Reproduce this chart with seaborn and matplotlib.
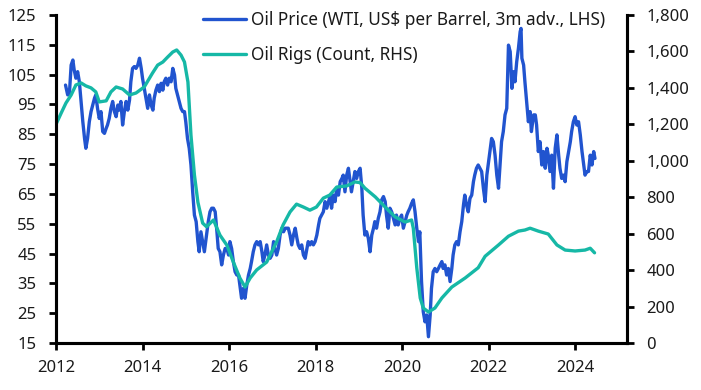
import matplotlib
matplotlib.use("Agg")
import matplotlib.pyplot as plt
import seaborn as sns
import pandas as pd
from matplotlib.ticker import FuncFormatter

# ---------------- data ----------------
oil_year = [
    2012.22, 2012.27, 2012.31, 2012.35, 2012.39, 2012.42, 2012.46, 2012.50, 2012.54, 2012.58,
    2012.62, 2012.66, 2012.69, 2012.73, 2012.77, 2012.81, 2012.85, 2012.89, 2012.92, 2012.96,
    2013.00, 2013.04, 2013.08, 2013.12, 2013.16, 2013.19, 2013.23, 2013.27, 2013.31, 2013.35,
    2013.39, 2013.43, 2013.46, 2013.50, 2013.54, 2013.58, 2013.62, 2013.66, 2013.70, 2013.73,
    2013.77, 2013.81, 2013.85, 2013.89, 2013.93, 2013.97, 2014.00, 2014.04, 2014.08, 2014.12,
    2014.16, 2014.20, 2014.24, 2014.27, 2014.31, 2014.35, 2014.39, 2014.43, 2014.47, 2014.50,
    2014.54, 2014.58, 2014.62, 2014.66, 2014.70, 2014.74, 2014.77, 2014.81, 2014.85, 2014.89,
    2014.93, 2014.97, 2015.00, 2015.04, 2015.08, 2015.12, 2015.16, 2015.20, 2015.24, 2015.28,
    2015.31, 2015.35, 2015.39, 2015.43,
    2015.48, 2015.52, 2015.56, 2015.60, 2015.64, 2015.68, 2015.72, 2015.75, 2015.79, 2015.83,
    2015.87, 2015.91, 2015.95, 2015.99, 2016.02, 2016.06, 2016.10, 2016.14, 2016.18, 2016.22,
    2016.25, 2016.29, 2016.33, 2016.37, 2016.41, 2016.45, 2016.49, 2016.52, 2016.56, 2016.60,
    2016.64, 2016.68, 2016.72, 2016.76, 2016.79, 2016.83, 2016.87, 2016.91, 2016.95, 2016.99,
    2017.03, 2017.06, 2017.10, 2017.14, 2017.18, 2017.22, 2017.26, 2017.30, 2017.33, 2017.37,
    2017.41, 2017.45, 2017.49, 2017.53, 2017.57, 2017.60, 2017.64, 2017.68, 2017.72, 2017.76,
    2017.80, 2017.83, 2017.87, 2017.91, 2017.95, 2017.99, 2018.03, 2018.07, 2018.10, 2018.14,
    2018.18, 2018.22, 2018.26, 2018.30, 2018.34, 2018.37, 2018.41, 2018.45, 2018.49, 2018.53,
    2018.57, 2018.61, 2018.64,
    2018.68, 2018.72, 2018.76, 2018.80, 2018.83, 2018.87, 2018.91, 2018.95, 2018.99, 2019.03,
    2019.07, 2019.10, 2019.14, 2019.18, 2019.22, 2019.26, 2019.30, 2019.34, 2019.37, 2019.41,
    2019.45, 2019.49, 2019.53, 2019.57, 2019.61, 2019.64, 2019.68, 2019.72, 2019.76, 2019.80,
    2019.84, 2019.87, 2019.91, 2019.95, 2019.99, 2020.03, 2020.07, 2020.11, 2020.14, 2020.18,
    2020.22, 2020.26, 2020.30, 2020.34, 2020.38, 2020.41, 2020.45, 2020.49, 2020.53, 2020.57,
    2020.61, 2020.65, 2020.68, 2020.72, 2020.76, 2020.80, 2020.84, 2020.88, 2020.92, 2020.95,
    2020.99, 2021.03, 2021.07, 2021.11, 2021.15, 2021.18, 2021.22, 2021.26, 2021.30, 2021.34,
    2021.38, 2021.42, 2021.45, 2021.49, 2021.53, 2021.57, 2021.61, 2021.65, 2021.68, 2021.72,
    2021.76, 2021.80, 2021.84, 2021.88,
    2021.92, 2021.96, 2022.00, 2022.04, 2022.07, 2022.11, 2022.15, 2022.19, 2022.23, 2022.27,
    2022.30, 2022.34, 2022.38, 2022.42, 2022.46, 2022.50, 2022.54, 2022.58, 2022.61, 2022.65,
    2022.69, 2022.73, 2022.75, 2022.77, 2022.81, 2022.84, 2022.88, 2022.92, 2022.96, 2022.99,
    2023.04, 2023.08, 2023.11, 2023.15, 2023.19, 2023.23, 2023.27, 2023.31, 2023.35, 2023.38,
    2023.42, 2023.46, 2023.50, 2023.54, 2023.58, 2023.62, 2023.65, 2023.69, 2023.73, 2023.77,
    2023.81, 2023.85, 2023.89, 2023.92, 2023.96, 2024.00, 2024.04, 2024.08, 2024.12, 2024.16,
    2024.19, 2024.23, 2024.27, 2024.31, 2024.35, 2024.39, 2024.43, 2024.46,
]
oil_price = [
    101.5, 98.2, 98.7, 108.2, 109.9, 106.6, 103.8, 106.0, 102.6, 96.0,
    89.2, 83.6, 80.3, 83.6, 89.2, 92.6, 94.8, 97.1, 98.2, 93.7,
    90.3, 92.6, 85.9, 85.3, 87.0, 88.1, 90.3, 93.7, 96.0, 92.6,
    90.9, 94.8, 93.1, 96.0, 88.1, 92.6, 96.0, 93.1, 96.5, 102.6,
    107.1, 107.7, 107.1, 108.2, 110.5, 107.1, 103.8, 100.4, 97.1, 93.7,
    98.2, 94.8, 93.1, 97.1, 99.8, 101.5, 99.3, 102.1, 99.8, 102.6,
    103.8, 101.5, 103.8, 102.6, 107.1, 104.9, 100.4, 98.2, 96.0, 93.7,
    92.6, 92.6, 89.2, 83.6, 80.3, 74.7, 65.7, 57.9, 55.7, 49.0,
    45.6, 52.3, 49.0, 45.6,
    51.2, 55.7, 59.0, 60.2, 60.2, 59.0, 52.3, 46.7, 45.6, 41.2,
    44.5, 46.7, 46.7, 44.5, 49.0, 46.7, 42.3, 38.9, 37.8, 37.8,
    34.4, 30.0, 33.3, 30.0, 34.4, 37.8, 40.0, 42.3, 45.6, 47.9,
    49.0, 47.9, 49.0, 45.6, 42.3, 44.5, 47.9, 44.5, 43.4, 44.5,
    49.0, 46.7, 44.5, 46.7, 51.2, 53.5, 52.3, 53.5, 53.5, 53.5,
    51.2, 47.9, 51.2, 53.5, 50.1, 47.9, 46.7, 47.9, 44.5, 43.4,
    46.7, 49.0, 47.9, 49.0, 47.9, 49.0, 51.2, 54.6, 56.8, 57.9,
    59.0, 62.4, 60.2, 62.4, 64.6, 60.2, 64.6, 62.4, 66.9, 64.6,
    69.1, 70.2, 71.3,
    65.7, 71.3, 73.6, 69.1, 65.7, 69.1, 72.5, 70.2, 72.5, 73.6,
    66.9, 57.9, 51.2, 52.3, 50.1, 45.6, 51.2, 53.5, 55.7, 53.5,
    56.8, 59.0, 63.0, 64.1, 62.4, 57.9, 53.5, 60.2, 59.0, 56.8,
    54.6, 57.9, 54.6, 56.8, 57.9, 53.5, 55.7, 57.9, 59.0, 60.2,
    61.8, 63.0, 59.0, 53.5, 49.0, 52.3, 35.6, 25.5, 22.1, 24.4,
    17.1, 24.4, 33.3, 38.9, 40.0, 38.9, 40.0, 41.2, 42.3, 40.0,
    41.2, 37.8, 40.0, 35.6, 40.0, 44.5, 47.9, 49.0, 47.9, 52.3,
    55.7, 61.3, 64.6, 61.3, 59.0, 63.5, 64.6, 69.1, 71.3, 73.6,
    74.7, 73.6, 72.5, 66.9,
    62.4, 71.3, 75.8, 80.3, 83.6, 82.5, 78.0, 71.3, 66.9, 75.8,
    82.5, 85.9, 91.5, 93.7, 114.9, 112.7, 100.4, 106.0, 102.6, 109.3,
    113.8, 119.4, 120.5, 110.5, 108.2, 102.6, 96.0, 89.2, 92.6, 85.9,
    91.5, 91.5, 88.1, 79.2, 82.5, 74.7, 79.2, 73.6, 80.3, 78.0,
    72.5, 78.0, 66.9, 80.3, 84.8, 78.0, 73.6, 70.2, 71.3, 69.1,
    75.8, 79.2, 82.5, 85.9, 89.2, 90.9, 88.1, 89.2, 84.8, 79.2,
    75.8, 71.3, 72.5, 72.5, 78.0, 74.7, 79.2, 76.9,
]

rig_year = [
    2012.00, 2012.12, 2012.23, 2012.35, 2012.46, 2012.58, 2012.69, 2012.81, 2012.92, 2013.00,
    2013.16, 2013.27, 2013.39, 2013.54, 2013.70, 2013.85, 2014.04, 2014.23, 2014.35, 2014.47,
    2014.58, 2014.70, 2014.79, 2014.89, 2014.97, 2015.05, 2015.12, 2015.20, 2015.28, 2015.39,
    2015.48, 2015.64, 2015.79, 2015.95, 2016.10, 2016.25, 2016.37, 2016.49, 2016.64, 2016.87,
    2017.10, 2017.25, 2017.41, 2017.56, 2017.72, 2017.87, 2018.02, 2018.18, 2018.33, 2018.49,
    2018.72, 2018.91, 2019.03, 2019.14, 2019.38, 2019.61, 2019.84, 2020.07, 2020.22, 2020.26,
    2020.34, 2020.42, 2020.49, 2020.61, 2020.76, 2020.92, 2021.15, 2021.46, 2021.76, 2021.92,
    2022.23, 2022.46, 2022.69, 2022.84, 2022.96, 2023.15, 2023.38, 2023.58, 2023.77, 2024.00,
    2024.23, 2024.35, 2024.45,
]
rig_count = [
    1200, 1262, 1317, 1361, 1416, 1427, 1411, 1400, 1378, 1323,
    1329, 1378, 1405, 1394, 1361, 1372, 1405, 1481, 1525, 1542,
    1569, 1597, 1608, 1580, 1542, 1432, 1140, 922, 773, 658,
    638, 675, 592, 537, 444, 357, 307, 357, 401, 444,
    555, 648, 719, 762, 746, 729, 746, 795, 812, 856,
    862, 884, 880, 850, 802, 746, 692, 664, 675, 630,
    413, 247, 192, 170, 192, 247, 307, 357, 413, 476,
    538, 586, 614, 620, 630, 614, 598, 538, 510, 505,
    510, 520, 495,
]

left_ticks = [15, 25, 35, 45, 55, 65, 75, 85, 95, 105, 115, 125]
right_ticks = [0, 200, 400, 600, 800, 1000, 1200, 1400, 1600, 1800]
x_ticks = [2012, 2014, 2016, 2018, 2020, 2022, 2024]

label_oil = "Oil Price (WTI, US$ per Barrel, 3m adv., LHS)"
label_rig = "Oil Rigs (Count, RHS)"

BLUE = "#2154cf"
TEAL = "#16b8a6"
TXT = "#1a1a1a"

# ---------------- plot ----------------
sns.set_style("white")
plt.rcParams["font.family"] = ["Noto Sans", "DejaVu Sans"]
plt.rcParams["font.size"] = 12

W, H = 701, 390
fig = plt.figure(figsize=(W / 100, H / 100), dpi=100)
ax = fig.add_axes([56 / W, 1 - 343 / H, (627 - 56) / W, (343 - 15) / H])
ax2 = ax.twinx()

df_oil = pd.DataFrame({"year": oil_year, "value": oil_price})
df_rig = pd.DataFrame({"year": rig_year, "value": rig_count})

sns.lineplot(data=df_oil, x="year", y="value", ax=ax, color=BLUE, lw=2.4, label=label_oil, legend=False)
sns.lineplot(data=df_rig, x="year", y="value", ax=ax2, color=TEAL, lw=2.4, label=label_rig, legend=False)

ax.set_xlim(2012, 2025.2)
ax.set_ylim(15, 125)
ax2.set_ylim(0, 1800)
ax.set_xticks(x_ticks)
ax.set_yticks(left_ticks)
ax2.set_yticks(right_ticks)
ax2.yaxis.set_major_formatter(FuncFormatter(lambda v, p: f"{int(v):,}"))
ax.set_xlabel("")
ax.set_ylabel("")
ax2.set_ylabel("")

for a in (ax, ax2):
    a.spines["top"].set_visible(False)
    for s in ("left", "right", "bottom"):
        a.spines[s].set_linewidth(2.2)
        a.spines[s].set_color("black")

ax.tick_params(axis="y", which="both", left=True, right=False, length=5, width=2, direction="out",
               pad=9, labelsize=12, labelcolor=TXT, color="black")
ax.tick_params(axis="x", which="both", bottom=True, length=5, width=2, direction="out",
               pad=7, labelsize=12, labelcolor=TXT, color="black")
ax2.tick_params(axis="y", which="both", right=True, left=False, length=5, width=2, direction="out",
                pad=9, labelsize=12, labelcolor=TXT, color="black")
ax.grid(False)
ax2.grid(False)

h1, l1 = ax.get_legend_handles_labels()
h2, l2 = ax2.get_legend_handles_labels()
leg = ax2.legend(h1 + h2, l1 + l2, loc="upper left", bbox_to_anchor=(203 / W, 1 - 11 / H),
                 bbox_transform=fig.transFigure, frameon=False, borderpad=0, borderaxespad=0,
                 handlelength=2.5, handletextpad=0.3, labelspacing=1.0, fontsize=12.4)
for t in leg.get_texts():
    t.set_color(TXT)

fig.savefig("out.png", dpi=100)
